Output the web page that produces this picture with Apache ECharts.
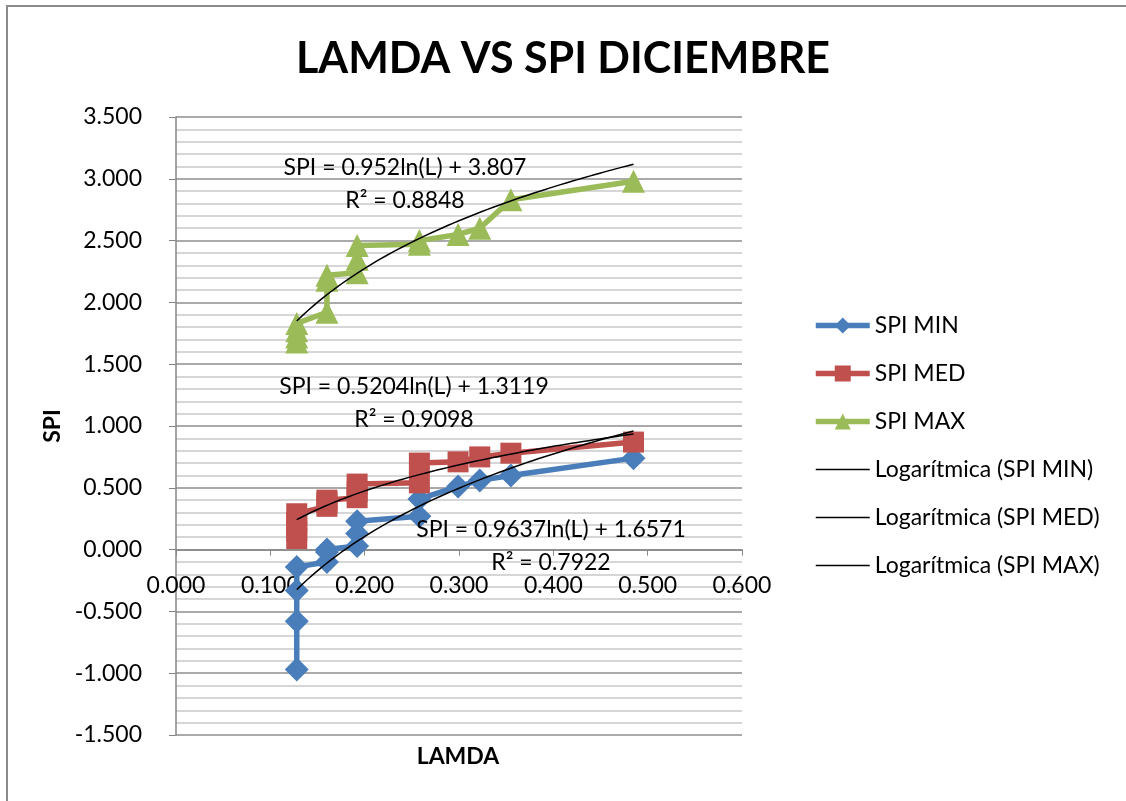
<!DOCTYPE html>
<html>
<head>
<meta charset="utf-8">
<title>LAMDA VS SPI DICIEMBRE</title>
<script src="https://cdn.jsdelivr.net/npm/echarts@6/dist/echarts.min.js"></script>
<style>
    html, body { margin: 0; padding: 0; background: #fff; }
    #container { width: 1126px; height: 801px; }
</style>
</head>
<body>
<div id="container"></div>
<script>
var myChart;
var myChartElement = 'container';

// valores
var lamda  = [0.128, 0.128, 0.128, 0.128, 0.160, 0.160, 0.160, 0.192, 0.192, 0.192, 0.258, 0.258, 0.299, 0.322, 0.355, 0.485];
var spiMin = [-0.97, -0.58, -0.33, -0.14, -0.10, -0.02, 0.00, 0.03, 0.13, 0.23, 0.27, 0.41, 0.51, 0.56, 0.60, 0.74];
var spiMed = [0.09, 0.15, 0.22, 0.29, 0.35, 0.38, 0.40, 0.42, 0.47, 0.53, 0.54, 0.70, 0.71, 0.75, 0.78, 0.87];
var spiMax = [1.68, 1.72, 1.77, 1.83, 1.92, 2.18, 2.22, 2.24, 2.35, 2.46, 2.47, 2.50, 2.55, 2.60, 2.83, 2.98];

// linea de tendencia logaritmica: SPI = a ln(L) + b
var trendMin = [0.9637, 1.6571];
var trendMed = [0.5204, 1.3119];
var trendMax = [0.952, 3.807];

// ejes
var xRange = [0, 0.6, 0.1];
var yRange = [-1.5, 3.5, 0.5];

var seriesNames = ['SPI MIN', 'SPI MED', 'SPI MAX',
    'Logarítmica (SPI MIN)', 'Logarítmica (SPI MED)', 'Logarítmica (SPI MAX)'];

var equationLabels = [
    ['SPI = 0.952ln(L) + 3.807', 'R² = 0.8848'],
    ['SPI = 0.5204ln(L) + 1.3119', 'R² = 0.9098'],
    ['SPI = 0.9637ln(L) + 1.6571', 'R² = 0.7922']
];

var fontName = 'Lato, "Open Sans", sans-serif';
var gridBox = { left: 176, right: 384, top: 117, bottom: 66 };

function pairs(xs, ys) {
    return xs.map(function (x, i) { return [x, ys[i]]; });
}

function trendPoints(coef) {
    var lo = Math.min.apply(null, lamda);
    var hi = Math.max.apply(null, lamda);
    var pts = [];
    for (var i = 0; i <= 60; i++) {
        var x = lo + (hi - lo) * i / 60;
        pts.push([x, coef[0] * Math.log(x) + coef[1]]);
    }
    return pts;
}

function markerSeries(name, data, color, symbol, size) {
    return {
        name: name,
        type: 'line',
        data: data,
        symbol: symbol,
        symbolSize: size,
        lineStyle: { color: color, width: 5.5 },
        itemStyle: { color: color },
        z: 2
    };
}

function trendSeries(name, data) {
    return {
        name: name,
        type: 'line',
        data: data,
        symbol: 'none',
        lineStyle: { color: '#000', width: 1.5 },
        itemStyle: { color: '#000' },
        z: 3
    };
}

function equationText(lines, cx, cy) {
    return lines.map(function (t, i) {
        return {
            type: 'text',
            x: cx,
            y: cy + i * 33,
            style: {
                text: t,
                font: '23px ' + fontName,
                fill: '#000',
                align: 'center',
                verticalAlign: 'middle'
            },
            z: 10
        };
    });
}

function initChart() {
    var dom = document.getElementById(myChartElement);
    myChart = echarts.init(dom, null, { renderer: 'canvas' });

    var fmt = function (v) { return v.toFixed(3); };

    // el eje X cruza en SPI = 0
    var plotH = dom.clientHeight - gridBox.top - gridBox.bottom;
    var xOffset = -(0 - yRange[0]) / (yRange[1] - yRange[0]) * plotH;

    var legendData = seriesNames.map(function (n, i) {
        return i < 3 ? { name: n } : { name: n, itemStyle: { opacity: 0 } };
    });

    var option = {
        backgroundColor: '#fff',
        animation: false,
        title: {
            text: 'LAMDA VS SPI DICIEMBRE',
            left: 'center',
            top: 33,
            textStyle: { fontFamily: fontName, fontSize: 43, fontWeight: 'bold', color: '#000' }
        },
        grid: gridBox,
        legend: {
            orient: 'vertical',
            left: 813,
            top: 314,
            padding: 0,
            itemWidth: 54,
            itemHeight: 20,
            itemGap: 25,
            data: legendData,
            lineStyle: { width: 'inherit' },
            textStyle: { fontFamily: fontName, fontSize: 23, color: '#000' }
        },
        xAxis: {
            type: 'value',
            min: xRange[0],
            max: xRange[1],
            interval: xRange[2],
            offset: xOffset,
            axisLine: { onZero: false, lineStyle: { color: '#868686', width: 1.5 } },
            axisTick: { show: true, length: 6, lineStyle: { color: '#868686' } },
            axisLabel: { formatter: fmt, margin: 24, fontFamily: fontName, fontSize: 23, color: '#000' },
            splitLine: { show: false }
        },
        yAxis: {
            type: 'value',
            min: yRange[0],
            max: yRange[1],
            interval: yRange[2],
            name: 'SPI',
            nameLocation: 'middle',
            nameGap: 106,
            nameTextStyle: { fontFamily: fontName, fontSize: 23, fontWeight: 'bold', color: '#000' },
            axisLine: { show: true, lineStyle: { color: '#868686', width: 1.5 } },
            axisTick: { show: true, length: 7, lineStyle: { color: '#868686' } },
            axisLabel: { formatter: fmt, margin: 34, fontFamily: fontName, fontSize: 23, color: '#000' },
            splitLine: { show: true, lineStyle: { color: '#8e8e8e', width: 1.5 } },
            minorTick: { show: false, splitNumber: 5 },
            minorSplitLine: { show: true, lineStyle: { color: '#c9c9c9', width: 1.5 } }
        },
        graphic: [
            {
                type: 'polyline',
                shape: { points: [[7, 801], [7, 6], [1126, 6]] },
                style: { stroke: '#8a8a8a', lineWidth: 2, fill: null }
            },
            {
                type: 'text',
                x: 458,
                y: 757,
                style: {
                    text: 'LAMDA',
                    font: 'bold 23px ' + fontName,
                    fill: '#000',
                    align: 'center',
                    verticalAlign: 'middle'
                }
            }
        ]
            .concat(equationText(equationLabels[0], 405, 168))
            .concat(equationText(equationLabels[1], 414, 387))
            .concat(equationText(equationLabels[2], 551, 530)),
        series: [
            markerSeries(seriesNames[0], pairs(lamda, spiMin), '#4a7ebb', 'diamond', 24),
            markerSeries(seriesNames[1], pairs(lamda, spiMed), '#c0504d', 'rect', 21),
            markerSeries(seriesNames[2], pairs(lamda, spiMax), '#9bbb59', 'triangle', 23),
            trendSeries(seriesNames[3], trendPoints(trendMin)),
            trendSeries(seriesNames[4], trendPoints(trendMed)),
            trendSeries(seriesNames[5], trendPoints(trendMax))
        ]
    };

    myChart.setOption(option);
}

initChart();
</script>
</body>
</html>
